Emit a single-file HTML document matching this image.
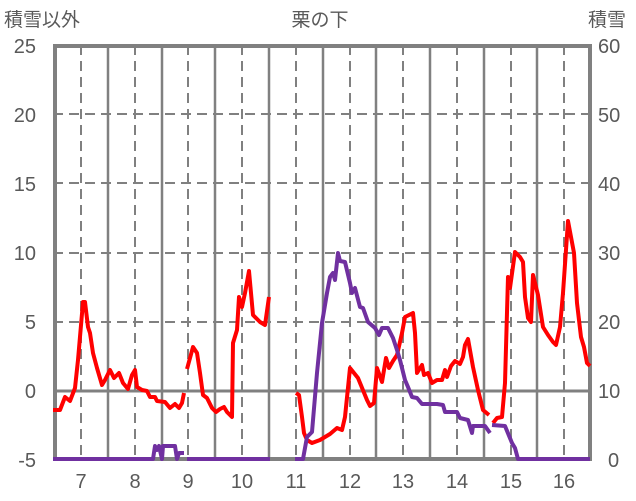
<!DOCTYPE html>
<html><head><meta charset="utf-8"><style>
body{margin:0;background:#fff;}
svg{display:block;font-family:"Liberation Sans","Noto Sans CJK JP",sans-serif;}
</style></head><body>
<svg width="636" height="501" viewBox="0 0 636 501">
<g stroke="#808080" stroke-width="2" fill="none">
<g stroke-dasharray="10,6">
<line x1="53" y1="114" x2="592" y2="114"/><line x1="53" y1="183" x2="592" y2="183"/>
<line x1="53" y1="253" x2="592" y2="253"/><line x1="53" y1="322" x2="592" y2="322"/>
<line x1="81" y1="45" x2="81" y2="460"/><line x1="135" y1="45" x2="135" y2="460"/>
<line x1="188" y1="45" x2="188" y2="460"/><line x1="242" y1="45" x2="242" y2="460"/>
<line x1="296" y1="45" x2="296" y2="460"/><line x1="350" y1="45" x2="350" y2="460"/>
<line x1="403" y1="45" x2="403" y2="460"/><line x1="457" y1="45" x2="457" y2="460"/>
<line x1="511" y1="45" x2="511" y2="460"/><line x1="564" y1="45" x2="564" y2="460"/>
</g>
<line x1="53" y1="391" x2="592" y2="391" stroke-width="3"/>
<line x1="108" y1="45" x2="108" y2="460" stroke-width="2.5"/><line x1="162" y1="45" x2="162" y2="460" stroke-width="2.5"/>
<line x1="215" y1="45" x2="215" y2="460" stroke-width="2.5"/><line x1="269" y1="45" x2="269" y2="460" stroke-width="2.5"/>
<line x1="323" y1="45" x2="323" y2="460" stroke-width="2.5"/><line x1="376" y1="45" x2="376" y2="460" stroke-width="2.5"/>
<line x1="430" y1="45" x2="430" y2="460" stroke-width="2.5"/><line x1="484" y1="45" x2="484" y2="460" stroke-width="2.5"/>
<line x1="537" y1="45" x2="537" y2="460" stroke-width="2.5"/>
</g>
<rect x="55" y="46" width="535" height="413" fill="none" stroke="#808080" stroke-width="4"/>
<g fill="none" stroke="#ff0000" stroke-width="4" stroke-linejoin="round">
<polyline points="53,410 60,410 65,397 70,401 75,388 78,360 83,302 85,302 88,327 90,333 93,353 97,368 102,385 105,380 110,370 114,378 119,373 123,383 128,389 132,375 135,370 137,387 142,390 147,391 150,397 155,397 157,401 165,402 170,408 175,404 179,408 182,403 184,393"/>
<polyline points="187,369 193,347 197,353 200,373 203,395 207,398 212,408 216,412 220,409 224,407 227,412 232,417 233,343 237,330 239,297 242,307 245,293 249,271 253,315 257,319 260,322 265,325 269,297"/>
<polyline points="296,393 299,395 302,417 304,433 307,440 312,443 320,440 330,434 337,428 342,430 345,417 350,368 354,373 358,378 367,400 370,406 374,403 377,368 382,382 386,358 389,368 393,361 397,355 402,333 405,317 409,315 413,313 415,333 417,373 422,365 424,375 428,373 432,383 437,380 442,380 445,370 447,377 451,366 455,361 460,364 463,357 465,345 468,339 473,367 478,390 483,410 489,415"/>
<polyline points="493,423 497,418 502,417 505,383 508,277 510,288 515,252 520,257 523,262 525,297 528,318 531,322 533,275 538,295 543,327 548,335 553,342 556,345 560,327 563,293 568,221 574,253 577,303 581,337 584,347 587,363 590,366"/>
</g>
<g fill="none" stroke="#7030a0" stroke-width="4" stroke-linejoin="round">
<polyline points="53,459 153,459 155,446 157,450 159,446 162,459 163,446 175,446 177,459 179,453 184,453"/>
<polyline points="187,459 270,459"/>
<polyline points="295,459 303,459 307,437 312,432 317,373 322,323 327,293 330,277 333,273 335,280 338,253 340,261 345,262 350,283 352,293 355,288 360,307 363,308 368,322 375,328 379,335 382,328 388,328 393,338 397,350 400,360 405,380 408,387 412,397 417,398 422,404 437,404 443,405 445,412 457,412 460,418 468,420 472,433 473,426 485,426 490,433"/>
<polyline points="492,425 505,426 512,443 515,448 518,459 590,459"/>
</g>
<g fill="#595959" font-size="20">
<text x="4" y="26" font-size="19">積雪以外</text>
<text x="320" y="26" font-size="19" text-anchor="middle">栗の下</text>
<text x="588" y="26" font-size="19">積雪</text>
<g text-anchor="end">
<text x="36" y="53">25</text><text x="36" y="122">20</text><text x="36" y="191">15</text>
<text x="36" y="260">10</text><text x="36" y="329">5</text><text x="36" y="398">0</text><text x="36" y="467">-5</text>
</g>
<g text-anchor="start">
<text x="598" y="53">60</text><text x="598" y="122">50</text><text x="598" y="191">40</text>
<text x="598" y="260">30</text><text x="598" y="329">20</text><text x="598" y="398">10</text><text x="608" y="467">0</text>
</g>
<g text-anchor="middle">
<text x="81" y="488">7</text><text x="135" y="488">8</text><text x="188" y="488">9</text>
<text x="242" y="488">10</text><text x="296" y="488">11</text><text x="350" y="488">12</text>
<text x="403" y="488">13</text><text x="457" y="488">14</text><text x="511" y="488">15</text><text x="564" y="488">16</text>
</g>
</g>
</svg>
</body></html>
